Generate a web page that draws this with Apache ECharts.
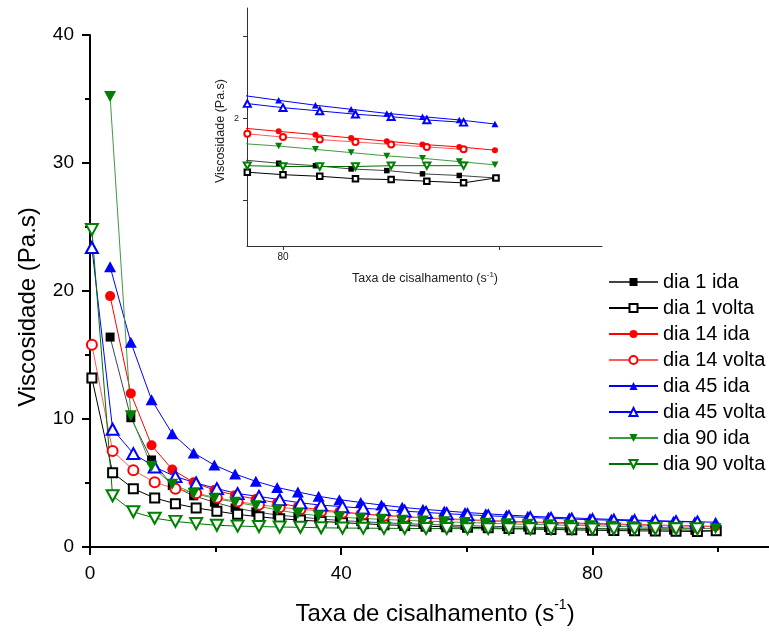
<!DOCTYPE html>
<html>
<head>
<meta charset="utf-8">
<script src="https://cdn.jsdelivr.net/npm/echarts@6/dist/echarts.min.js"></script>
<style>html,body{margin:0;padding:0;background:#fff}#c{width:769px;height:632px}</style>
</head>
<body>
<div id="c"></div>
<script>
// ---- data ----
var idaX = [3.2, 6.5, 9.8, 13.1, 16.5, 19.8, 23.1, 26.4, 29.8, 33.1, 36.4, 39.7, 43.1, 46.4, 49.7, 53.0, 56.4, 59.7, 63.0, 66.3, 69.7, 73.0, 76.3, 79.6, 83.0, 86.3, 89.6, 92.9, 96.3, 99.6];
var voltaX = [0.3, 3.6, 6.9, 10.3, 13.6, 16.9, 20.2, 23.5, 26.9, 30.2, 33.5, 36.8, 40.2, 43.5, 46.8, 50.1, 53.5, 56.8, 60.1, 63.4, 66.7, 70.1, 73.4, 76.7, 80.0, 83.4, 86.7, 90.0, 93.3, 96.7];
var dia1VoltaX = [0.3, 3.6, 6.9, 10.3, 13.6, 16.9, 20.2, 23.5, 26.9, 30.2, 33.5, 36.8, 40.2, 43.5, 46.8, 50.1, 53.5, 56.8, 60.1, 63.4, 66.7, 70.1, 73.4, 76.7, 80.0, 83.4, 86.7, 90.0, 93.3, 96.7, 99.7];

var dia1Ida   = [16.4, 10.1, 6.8, 4.8, 4.0, 3.5, 3.05, 2.75, 2.5, 2.35, 2.2, 2.08, 1.98, 1.9, 1.83, 1.77, 1.72, 1.67, 1.63, 1.59, 1.55, 1.52, 1.49, 1.45, 1.42, 1.38, 1.36, 1.32, 1.30, 1.27];
var dia1Volta = [13.2, 5.8, 4.55, 3.83, 3.38, 3.05, 2.8, 2.55, 2.36, 2.21, 2.1, 2.0, 1.9, 1.82, 1.74, 1.68, 1.62, 1.58, 1.54, 1.5, 1.45, 1.41, 1.37, 1.34, 1.31, 1.29, 1.26, 1.25, 1.23, 1.21, 1.27];
var dia14Ida   = [19.6, 12.0, 7.95, 6.05, 5.05, 4.45, 4.05, 3.75, 3.45, 3.15, 2.92, 2.75, 2.6, 2.48, 2.38, 2.29, 2.21, 2.14, 2.07, 2.01, 1.96, 1.92, 1.88, 1.84, 1.80, 1.76, 1.72, 1.68, 1.65, 1.61];
var dia14Volta = [15.8, 7.5, 6.0, 5.05, 4.55, 4.2, 3.85, 3.55, 3.3, 3.1, 2.95, 2.8, 2.67, 2.55, 2.45, 2.35, 2.25, 2.17, 2.1, 2.03, 1.97, 1.91, 1.86, 1.81, 1.77, 1.74, 1.71, 1.68, 1.65, 1.62];
var dia45Ida   = [21.9, 16.0, 11.5, 8.85, 7.35, 6.4, 5.7, 5.13, 4.65, 4.3, 3.96, 3.7, 3.48, 3.28, 3.1, 2.95, 2.82, 2.7, 2.6, 2.5, 2.41, 2.34, 2.28, 2.22, 2.16, 2.11, 2.06, 2.02, 1.98, 1.93];
var dia45Volta = [23.4, 9.2, 7.3, 6.25, 5.5, 5.0, 4.56, 4.17, 3.95, 3.7, 3.45, 3.27, 3.15, 3.03, 2.92, 2.8, 2.7, 2.6, 2.52, 2.44, 2.37, 2.3, 2.24, 2.18, 2.13, 2.09, 2.05, 2.02, 1.98, 1.95];
var dia90Ida   = [35.2, 10.25, 6.3, 4.9, 4.2, 3.8, 3.5, 3.22, 2.9, 2.62, 2.45, 2.33, 2.24, 2.16, 2.09, 2.03, 1.97, 1.92, 1.86, 1.81, 1.77, 1.73, 1.69, 1.66, 1.62, 1.58, 1.54, 1.51, 1.47, 1.43];
var dia90Volta = [24.8, 4.0, 2.75, 2.25, 2.0, 1.83, 1.7, 1.63, 1.6, 1.56, 1.54, 1.5, 1.48, 1.47, 1.46, 1.45, 1.44, 1.44, 1.43, 1.43, 1.42, 1.42, 1.42, 1.42, 1.41, 1.41, 1.41, 1.42, 1.42, 1.42];

var seriesNames = ['dia 1 ida', 'dia 1 volta', 'dia 14 ida', 'dia 14 volta', 'dia 45 ida', 'dia 45 volta', 'dia 90 ida', 'dia 90 volta'];
var mainXTickLabels = [0, 40, 80];
var mainYTicks = [0, 10, 20, 30, 40];
var insetXTickLabels = [80];
var insetYTickLabels = [2];

// ---- styling ----
var FONT = "'Liberation Sans', Arial, Helvetica, sans-serif";
var defs = [
  {x: idaX, y: dia1Ida, color: '#000000', line: '#444444', sym: 'rect', size: 9, rot: 0, empty: false},
  {x: dia1VoltaX, y: dia1Volta, color: '#000000', line: '#000000', sym: 'rect', size: 9, rot: 0, empty: true},
  {x: idaX, y: dia14Ida, color: '#ff0000', line: '#ff0000', sym: 'circle', size: 10, rot: 0, empty: false},
  {x: voltaX, y: dia14Volta, color: '#ff0000', line: '#ff5a5a', sym: 'circle', size: 10, rot: 0, empty: true},
  {x: idaX, y: dia45Ida, color: '#0000ff', line: '#0000ff', sym: 'triangle', size: [12, 11], rot: 0, empty: false},
  {x: voltaX, y: dia45Volta, color: '#0000ff', line: '#0000ff', sym: 'triangle', size: [12, 11], rot: 0, empty: true},
  {x: idaX, y: dia90Ida, color: '#008000', line: '#3f9a3f', sym: 'triangle', size: [12, 11], rot: 180, empty: false},
  {x: voltaX, y: dia90Volta, color: '#008000', line: '#007000', sym: 'triangle', size: [12, 11], rot: 180, empty: true}
];

function pairs(xs, ys) { return ys.map(function (v, i) { return [xs[i], v]; }); }

var series = [];
defs.forEach(function (d, i) {
  var base = {
    name: seriesNames[i], type: 'line',
    symbol: d.empty ? 'empty' + d.sym.charAt(0).toUpperCase() + d.sym.slice(1) : d.sym,
    symbolRotate: d.rot,
    lineStyle: {color: d.line, width: 1},
    itemStyle: {color: d.color, borderColor: d.color, borderWidth: d.empty ? 1 : 0},
    emphasis: {disabled: true},
    data: pairs(d.x, d.y)
  };
  series.push(Object.assign({}, base, {xAxisIndex: 0, yAxisIndex: 0, symbolSize: d.size}));
  var small = Array.isArray(d.size) ? [7, 6.5] : (d.sym === 'rect' ? 5.5 : 6);
  series.push(Object.assign({}, base, {xAxisIndex: 2, yAxisIndex: 1, symbolSize: small, clip: true}));
});

var chart = echarts.init(document.getElementById('c'), null, {renderer: 'canvas'});
chart.setOption({
  animation: false,
  backgroundColor: '#fff',
  grid: [
    {left: 90, top: 35, right: 0, bottom: 85},
    {left: 247, top: 8, width: 355, height: 238}
  ],
  xAxis: [
    {type: 'value', gridIndex: 0, min: 0, max: 108.1, position: 'bottom',
     axisLine: {lineStyle: {color: '#000', width: 2}},
     axisTick: {customValues: mainXTickLabels, length: 8, lineStyle: {color: '#000', width: 2}},
     axisLabel: {customValues: mainXTickLabels, fontSize: 19, color: '#000', fontFamily: FONT, margin: 17},
     splitLine: {show: false}},
    {type: 'value', gridIndex: 0, min: 0, max: 108.1, position: 'bottom',
     axisLine: {show: false},
     axisTick: {customValues: [20, 60, 100], length: 5, lineStyle: {color: '#000', width: 2}},
     axisLabel: {show: false}, splitLine: {show: false}},
    {type: 'value', gridIndex: 1, min: 76.67, max: 109.5, position: 'bottom',
     axisLine: {lineStyle: {color: '#333', width: 1}},
     axisTick: {customValues: [80, 100], length: 4, lineStyle: {color: '#333', width: 1}},
     axisLabel: {customValues: insetXTickLabels, fontSize: 10, color: '#222', fontFamily: FONT, margin: 6},
     splitLine: {show: false}}
  ],
  yAxis: [
    {type: 'value', gridIndex: 0, min: 0, max: 40, interval: 10,
     axisLine: {show: true, lineStyle: {color: '#000', width: 2}},
     axisTick: {show: true, customValues: mainYTicks, length: 8, lineStyle: {color: '#000', width: 2}},
     minorTick: {show: true, splitNumber: 2, length: 5, lineStyle: {color: '#000', width: 2}},
     axisLabel: {fontSize: 19, color: '#000', fontFamily: FONT, margin: 16},
     splitLine: {show: false}, minorSplitLine: {show: false}},
    {type: 'value', gridIndex: 1, min: 0.437, max: 3.35,
     axisLine: {show: true, lineStyle: {color: '#333', width: 1}},
     axisTick: {show: true, customValues: [1, 2, 3], length: 4, lineStyle: {color: '#333', width: 1}},
     axisLabel: {customValues: insetYTickLabels, fontSize: 9, color: '#222', fontFamily: FONT, margin: 8},
     splitLine: {show: false}}
  ],
  legend: {
    data: seriesNames, orient: 'vertical', left: 608, top: 272, padding: 0,
    itemWidth: 49, itemHeight: 10, itemGap: 6,
    textStyle: {fontSize: 20, color: '#000', fontFamily: FONT, lineHeight: 20}
  },
  graphic: [
    {type: 'text', x: 28, y: 307, rotation: Math.PI / 2,
     style: {text: 'Viscosidade (Pa.s)', font: '24px ' + FONT, fill: '#000', align: 'center', verticalAlign: 'middle'}},
    {type: 'text', x: 435, y: 612,
     style: {text: '{a|Taxa de cisalhamento (s}{b|-1}{a|)}', fill: '#000', align: 'center', verticalAlign: 'middle',
       rich: {a: {fontSize: 24, fontFamily: FONT, lineHeight: 28, verticalAlign: 'bottom'},
              b: {fontSize: 14, fontFamily: FONT, lineHeight: 28, verticalAlign: 'top'}}}},
    {type: 'text', x: 221, y: 131, rotation: Math.PI / 2,
     style: {text: 'Viscosidade (Pa.s)', font: '12.5px ' + FONT, fill: '#222', align: 'center', verticalAlign: 'middle'}},
    {type: 'text', x: 425, y: 278,
     style: {text: '{a|Taxa de cisalhamento (s}{b|-1}{a|)}', fill: '#222', align: 'center', verticalAlign: 'middle',
       rich: {a: {fontSize: 12.5, fontFamily: FONT, lineHeight: 15, verticalAlign: 'bottom'},
              b: {fontSize: 8, fontFamily: FONT, lineHeight: 15, verticalAlign: 'top'}}}}
  ],
  series: series
});
</script>
</body>
</html>
